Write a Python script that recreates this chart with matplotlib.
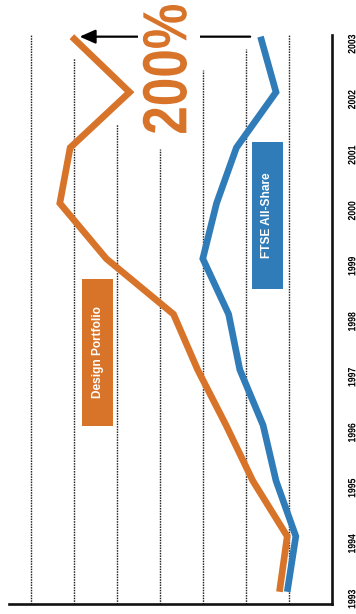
import matplotlib
matplotlib.use("Agg")
import matplotlib.pyplot as plt
from matplotlib.patches import Rectangle
from matplotlib.patheffects import AbstractPathEffect
from matplotlib.transforms import Affine2D

# Index values per year, read along the value axis (0 at the axis line)
years = list(range(1993, 2004))
design_portfolio = [61, 52, 92, 123, 156, 184, 262, 316, 304, 235, 302]
ftse_all_share = [52, 42, 65, 80, 107, 120, 150, 134, 111, 65, 83]
year_labels = [str(y) for y in years]

# Dotted guide lines and how far up (axes fraction) each one runs
grid_values = [50, 100, 150, 200, 250, 300, 350]
grid_tops = [1.0, 0.975, 0.938, 0.80, 0.844, 0.96, 1.0]

series_names = ["Design Portfolio", "FTSE All-Share"]
growth_label = "200%"

ORANGE = "#D8742A"
BLUE = "#2F7CB8"
SANS = ["Liberation Sans", "DejaVu Sans"]


class Condense(AbstractPathEffect):
    """Squeeze glyphs along the reading direction (a narrow-face look)."""

    def __init__(self, factor):
        super().__init__()
        self.factor = factor

    def draw_path(self, renderer, gc, tpath, affine, rgbFace=None):
        ext = tpath.get_extents()
        cx = (ext.x0 + ext.x1) / 2
        squeeze = Affine2D().translate(-cx, 0).scale(self.factor, 1).translate(cx, 0)
        renderer.draw_path(gc, tpath, squeeze + affine, rgbFace)


NARROW = [Condense(0.82)]

fig = plt.figure(figsize=(3.56, 6.14), dpi=100)
ax = fig.add_axes([9 / 356, 10 / 614, 323 / 356, 569 / 614])
ax.set_xlim(375, 0)
ax.set_ylim(1992.78, 2003.03)

for v, top in zip(grid_values, grid_tops):
    ax.axvline(v, ymin=0, ymax=top, color="#222222", lw=1.0,
               linestyle=(0, (1.1, 0.8)), zorder=1)

ax.plot(design_portfolio, years, color=ORANGE, lw=4.8,
        solid_joinstyle="miter", solid_capstyle="butt", zorder=3, clip_on=False)
ax.plot(ftse_all_share, years, color=BLUE, lw=4.8,
        solid_joinstyle="miter", solid_capstyle="butt", zorder=4, clip_on=False)

# Arrow from the index's final value to the portfolio's final value
ax.annotate("", xy=(design_portfolio[-1] - 9, years[-1]),
            xytext=(ftse_all_share[-1] + 12, years[-1]),
            arrowprops=dict(arrowstyle="-|>,head_length=0.95,head_width=0.42",
                            color="black", lw=1.6, shrinkA=0, shrinkB=0),
            annotation_clip=False, zorder=5)
ax.add_patch(Rectangle((153, years[-1] - 0.15), 72, 0.3, facecolor="white",
                       edgecolor="none", zorder=6, clip_on=False))
ax.text(0.498, 0.940, growth_label, transform=ax.transAxes, rotation=90,
        ha="center", va="center", fontsize=45, fontweight="bold",
        color=ORANGE, family=SANS, zorder=7, path_effects=NARROW)

# Series name boxes
for name, color, x0, y0 in [(series_names[0], ORANGE, 0.226, 0.313),
                            (series_names[1], BLUE, 0.752, 0.554)]:
    w, h = 0.096, 0.258
    ax.add_patch(Rectangle((x0, y0), w, h, transform=ax.transAxes,
                           facecolor=color, edgecolor="none", zorder=6))
    ax.text(x0 + w / 2, y0 + h / 2, name, transform=ax.transAxes,
            rotation=90, ha="center", va="center", color="white",
            fontsize=8.6, fontweight="bold", family=SANS, zorder=7)

for side in ("left", "top"):
    ax.spines[side].set_visible(False)
for side in ("bottom", "right"):
    ax.spines[side].set_linewidth(1.9)
    ax.spines[side].set_color("#111111")
    ax.spines[side].set_capstyle("projecting")

ax.set_xticks([])
ax.set_yticks(years)
ax.set_yticklabels(year_labels)
ax.yaxis.tick_right()
ax.tick_params(axis="y", length=0, pad=11, labelsize=7.6, labelrotation=90)
for tl in ax.get_yticklabels():
    tl.set_family(SANS)
    tl.set_fontweight("bold")
    tl.set_path_effects(NARROW)

fig.savefig("out.png", dpi=100)
